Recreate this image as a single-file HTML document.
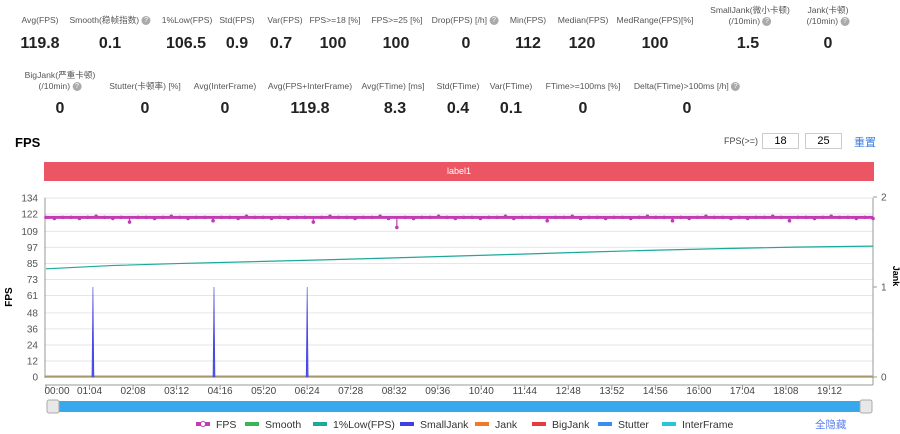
<!DOCTYPE html>
<html><head><meta charset="utf-8">
<style>
body{margin:0;width:900px;height:434px;background:#fff;font-family:"Liberation Sans","Noto Sans CJK SC",sans-serif;overflow:hidden;position:relative}
.lb{position:absolute;font-size:8.6px;color:#555;text-align:center;transform:translateX(-50%);white-space:nowrap;line-height:11px}
.v{position:absolute;font-size:16px;font-weight:bold;color:#222;transform:translateX(-50%);white-space:nowrap}
.q{display:inline-block;width:9px;height:9px;border-radius:50%;background:#aaa;color:#fff;font-size:7px;line-height:9px;text-align:center;vertical-align:middle}
.in{position:absolute;top:133px;width:35px;height:14px;border:1px solid #ccc;font-size:11px;text-align:center;line-height:14px}
</style></head><body>
<div>
<div class="lb" style="left:40px;top:15px">Avg(FPS)</div>
<div class="lb" style="left:110px;top:15px">Smooth(稳帧指数) <span class="q">?</span></div>
<div class="lb" style="left:187px;top:15px">1%Low(FPS)</div>
<div class="lb" style="left:237px;top:15px">Std(FPS)</div>
<div class="lb" style="left:285px;top:15px">Var(FPS)</div>
<div class="lb" style="left:335px;top:15px">FPS>=18 [%]</div>
<div class="lb" style="left:397px;top:15px">FPS>=25 [%]</div>
<div class="lb" style="left:465px;top:15px">Drop(FPS) [/h] <span class="q">?</span></div>
<div class="lb" style="left:528px;top:15px">Min(FPS)</div>
<div class="lb" style="left:583px;top:15px">Median(FPS)</div>
<div class="lb" style="left:655px;top:15px">MedRange(FPS)[%]</div>
<div class="lb" style="left:750px;top:5px">SmallJank(微小卡顿)<br>(/10min) <span class="q">?</span></div>
<div class="lb" style="left:828px;top:5px">Jank(卡顿)<br>(/10min) <span class="q">?</span></div>
<div class="v" style="left:40px;top:35px">119.8</div>
<div class="v" style="left:110px;top:35px">0.1</div>
<div class="v" style="left:186px;top:35px">106.5</div>
<div class="v" style="left:237px;top:35px">0.9</div>
<div class="v" style="left:281px;top:35px">0.7</div>
<div class="v" style="left:333px;top:35px">100</div>
<div class="v" style="left:396px;top:35px">100</div>
<div class="v" style="left:466px;top:35px">0</div>
<div class="v" style="left:528px;top:35px">112</div>
<div class="v" style="left:582px;top:35px">120</div>
<div class="v" style="left:655px;top:35px">100</div>
<div class="v" style="left:748px;top:35px">1.5</div>
<div class="v" style="left:828px;top:35px">0</div>
<div class="lb" style="left:60px;top:70px">BigJank(严重卡顿)<br>(/10min) <span class="q">?</span></div>
<div class="lb" style="left:145px;top:81px">Stutter(卡顿率) [%]</div>
<div class="lb" style="left:225px;top:81px">Avg(InterFrame)</div>
<div class="lb" style="left:310px;top:81px">Avg(FPS+InterFrame)</div>
<div class="lb" style="left:393px;top:81px">Avg(FTime) [ms]</div>
<div class="lb" style="left:458px;top:81px">Std(FTime)</div>
<div class="lb" style="left:511px;top:81px">Var(FTime)</div>
<div class="lb" style="left:583px;top:81px">FTime>=100ms [%]</div>
<div class="lb" style="left:687px;top:81px">Delta(FTime)>100ms [/h] <span class="q">?</span></div>
<div class="v" style="left:60px;top:100px">0</div>
<div class="v" style="left:145px;top:100px">0</div>
<div class="v" style="left:225px;top:100px">0</div>
<div class="v" style="left:310px;top:100px">119.8</div>
<div class="v" style="left:395px;top:100px">8.3</div>
<div class="v" style="left:458px;top:100px">0.4</div>
<div class="v" style="left:511px;top:100px">0.1</div>
<div class="v" style="left:583px;top:100px">0</div>
<div class="v" style="left:687px;top:100px">0</div>
</div>
<div style="position:absolute;left:15px;top:135px;font-size:13px;font-weight:bold">FPS</div>
<div style="position:absolute;left:724px;top:136px;font-size:9px;color:#444">FPS(>=)</div>
<div class="in" style="left:762px">18</div>
<div class="in" style="left:805px">25</div>
<div style="position:absolute;left:854px;top:134px;font-size:11px;color:#3b7de0">重置</div>
<div style="position:absolute;left:44px;top:162px;width:830px;height:19px;background:#eb5564;color:#fff;font-size:9px;text-align:center;line-height:19px">label1</div>
<svg id="c" width="900" height="434" style="position:absolute;left:0;top:0"></svg>
<script>
const yTicks=[0,12,24,36,48,61,73,85,97,109,122,134];
const xLabels=["00:00","01:04","02:08","03:12","04:16","05:20","06:24","07:28","08:32","09:36","10:40","11:44","12:48","13:52","14:56","16:00","17:04","18:08","19:12"];
const fpsValues=[120,119,120,120,119,120,121,120,119,120,116,120,120,119,120,121,120,119,120,120,117,120,120,119,121,120,120,119,120,119,120,120,116,120,121,120,120,119,120,120,121,119,112,120,119,120,120,121,120,119,120,120,119,120,120,121,119,120,120,120,117,120,120,121,119,120,120,119,120,120,119,120,121,120,120,117,120,119,120,121,120,120,119,120,119,120,120,121,120,117,120,120,119,120,121,120,120,119,120,119];
const lowTimes=[0,100,200,300,400,500,600,700,800,900,1000,1100,1216];
const lowValues=[81,83.5,85,86.3,87.6,89,90.5,92,93.6,95,96.2,97.2,98];
const jankTimes=[69,247,384];
const jankValues=[1,1,1];
const tMax=1216;
const X=t=>46+t*(873-46)/tMax, Y=v=>377-v*(179/134), YR=v=>377-v*90;
const s=document.getElementById('c');const NS='http://www.w3.org/2000/svg';
function el(tag,a,txt){const e=document.createElementNS(NS,tag);for(const k in a)e.setAttribute(k,a[k]);if(txt!==undefined)e.textContent=txt;s.appendChild(e);return e;}
yTicks.forEach(v=>{
 const g=el('line',{x1:44,x2:873,y1:Y(v),y2:Y(v),stroke:'#e6e6e6'});
 
 const t=el('text',{x:38,y:Y(v)+3.5,'text-anchor':'end','font-size':10,fill:'#555'},v);
 
});
el('line',{x1:45,x2:45,y1:198,y2:378,stroke:'#999'});
el('line',{x1:873,x2:873,y1:198,y2:385,stroke:'#999'});
[[0,'0'],[1,'1'],[2,'2']].forEach(([v,l])=>{el('line',{x1:873,x2:877,y1:YR(v),y2:YR(v),stroke:'#999'});
 const t=el('text',{x:881,y:YR(v)+3.5,'font-size':10,fill:'#555'},l);});
el('line',{x1:45,x2:873,y1:385,y2:385,stroke:'#999'});
xLabels.forEach((l,i)=>{const x=X(i*64);el('line',{x1:x,x2:x,y1:385,y2:389,stroke:'#999'});
 const t=el('text',{x:i==0?x+11:x,y:394,'text-anchor':'middle','font-size':10,fill:'#444'},l);
 });
let yt=el('text',{x:12,y:297,'font-size':10,'font-weight':'bold',transform:'rotate(-90 12 297)','text-anchor':'middle'},'FPS');

let yt2=el('text',{x:893,y:276,'font-size':9,'font-weight':'bold',transform:'rotate(90 893 276)','text-anchor':'middle'},'Jank');

el('line',{x1:45,x2:873,y1:376,y2:376,stroke:'#2ac5d6','stroke-width':1});
el('line',{x1:45,x2:873,y1:377,y2:377,stroke:'#f07a2a','stroke-width':1.2});
let p=lowTimes.map((t,i)=>(i?'L':'M')+X(t)+','+Y(lowValues[i])).join('');
let lw=el('path',{d:p,fill:'none',stroke:'#1aa99a','stroke-width':1.2});

jankTimes.forEach((t,i)=>{const r=el('path',{d:`M${X(t)-1},${YR(0)}L${X(t)},${YR(jankValues[i])}L${X(t)+1},${YR(0)}Z`,fill:'#5058e8',stroke:'#4040e0','stroke-width':0.6});
 });
const n=fpsValues.length;
const base=120;
let fl=el('line',{x1:X(0),x2:X(tMax),y1:Y(119.5),y2:Y(119.5),stroke:'#c23bb5','stroke-width':3});

fpsValues.forEach((v,i)=>{const x=X(i*tMax/(n-1));
 if(v<119){const d=el('line',{x1:x,x2:x,y1:Y(119.5),y2:Y(v),stroke:'#c23bb5','stroke-width':1.2});
  }
 const c=el('circle',{cx:x,cy:Y(v<119?v:119.5+(v-120)*0.8),r:1.8,fill:'#c23bb5'});
 });
let sb=el('rect',{x:47,y:401,width:820,height:11,fill:'#38a8ec',rx:2});

[47,860].forEach(x=>{const h=el('rect',{x:x,y:400,width:12,height:13,fill:'#e8e8e8',stroke:'#aaa',rx:2});
 });
const leg=[['FPS','#c23bb5',196],['Smooth','#3cb55a',245],['1%Low(FPS)','#1aa99a',313],['SmallJank','#4040e0',400],['Jank','#f07a2a',475],['BigJank','#e83a3a',532],['Stutter','#3b8cf0',598],['InterFrame','#2ac5d6',662]];
leg.forEach(([l,c,x])=>{const r=el('rect',{x:x,y:422,width:14,height:4,fill:c});
 if(l=='FPS')el('circle',{cx:x+7,cy:424,r:2.5,fill:'#fff',stroke:c});
 const t=el('text',{x:x+20,y:428,'font-size':10.5,fill:'#333'},l);
 });
let ha=el('text',{x:815,y:428,'font-size':10.5,fill:'#5b7ff0'},'全隐藏');

</script>
</body></html>
